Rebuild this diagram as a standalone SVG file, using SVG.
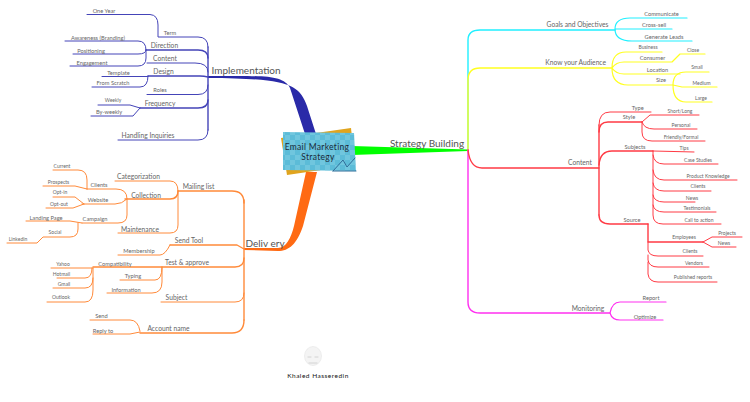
<svg xmlns="http://www.w3.org/2000/svg" width="750" height="402" viewBox="0 0 750 402">
<style>
text{font-family:"Lato","Liberation Sans",sans-serif;fill:#666;text-anchor:middle;dominant-baseline:central}
.xl{font-size:10px;fill:#555}.l{font-size:6.700px}.m{font-size:5.700px}.s{font-size:5px}
.c{font-size:8.500px;fill:#1c2a38;letter-spacing:.3px}
path{fill:none;stroke-linecap:round;stroke-linejoin:round}
.b{stroke:#4444b8;stroke-width:1}.o{stroke:#ff8a3a;stroke-width:1}.r{stroke:#ff3a44;stroke-width:1}
.y{stroke:#ffff20;stroke-width:1.200}.cy{stroke:#20f0ff;stroke-width:1.200}.p{stroke:#ff30f0;stroke-width:1.200}
.t{stroke-width:1.400}
</style>
<defs>
<pattern id="chk" width="10" height="10" patternUnits="userSpaceOnUse"><rect width="10" height="10" fill="#5cbcd8"/><rect width="5" height="5" fill="#70c6de"/><rect x="5" y="5" width="5" height="5" fill="#70c6de"/></pattern>
</defs>
<g id="connectors">
<path style="fill:#00ff00;stroke:none" d="M352,146 L468,149.600 L468,151 L352,155Z"/>
<path style="fill:#2a2aa8;stroke:none" d="M208,76 C260,76 283,74 290,88 L305,134 L316,134 L307,106 C299,84 288,78.500 208,78Z"/>
<path style="fill:#ff6a13;stroke:none" d="M244,248 L278,248 C286,248 291,238 294,226 L306,172 L317,172 L303,226 C297,244 289,251 278,251 L244,250Z"/>
<path class="b t" d="M208,47V130"/>
<path class="b" d="M87,14.500H150Q158,15 158,25V37H198Q208,37 208,47"/>
<path class="b t" d="M146,50H198Q208,50 208,58"/>
<path class="b" d="M65,41H138Q146,41 146,50M73,54H138Q146,54 146,50M70,66H138Q146,66 146,58V50"/>
<path class="b" d="M147,63H195Q208,63 208,72"/>
<path class="b t" d="M148,76H200Q204,76 208,77"/>
<path class="b" d="M102,76.500H148M92,87H140Q148,87 148,76"/>
<path class="b" d="M147,94.500H198Q208,94.500 208,85"/>
<path class="b t" d="M140,108H198Q208,108 208,100"/>
<path class="b" d="M98,105H130L140,108M91,116H133L140,108"/>
<path class="b" d="M118,140H198Q208,140 208,130"/>
<path class="o t" d="M244,200V320"/>
<path class="o t" d="M178,191H232Q244,191 244,203"/>
<path class="o" d="M115,181H170Q178,181 178,191M178,191V225Q178,233 170,233H118"/>
<path class="o t" d="M125,199H170Q178,199 178,191"/>
<path class="o" d="M87,189H116Q127,189 127,199V215Q127,223 118,223H82M127,199Q122,204 115,204H82"/>
<path class="o" d="M53,170H78Q87,170 87,180V189M43,186H75L87,189M53,197H75L84,204M46,208H73L84,204"/>
<path class="o" d="M26,221H70L82,223M78,223V229Q78,237 70,237H43L37,243H7"/>
<path class="o t" d="M170,245H237L244,249"/>
<path class="o" d="M118,255H160Q165,255 170,245"/>
<path class="o t" d="M93,267H235Q244,267 244,258"/>
<path class="o" d="M51,268H93M57,278H85Q92,278 92,268M53,288H85Q93,288 93,278M47,302H85Q93,302 93,290V268"/>
<path class="o" d="M120,280H155Q162,280 162,267M107,293H152Q162,293 162,282V267"/>
<path class="o" d="M161,302H235Q244,302 244,293"/>
<path class="o t" d="M140,333H232Q244,333 244,320"/>
<path class="o" d="M90,320H130Q138,320 140,331M93,334H130L140,332"/>
<path class="cy t" d="M468,150V40Q468,30 480,30H615"/>
<path class="cy" d="M615,29Q615,18 630,18H687M615,29H672M615,29Q615,41 632,41H692"/>
<path class="y t" d="M468,150V80Q468,68 480,68H612"/>
<path class="y" d="M612,68Q612,52 626,52H662M612,68Q616,62 624,62H672L680,54H705M612,68Q616,74 624,74H680M612,68Q612,85 628,85H673"/>
<path class="y" d="M673,85Q673,72 686,72H709M673,85L682,87H717M673,85Q673,102 686,102H712"/>
<path class="p t" d="M468,150V302Q468,313 480,313H610"/>
<path class="p" d="M610,313Q612,302 620,302H666M610,313Q612,320 620,320H663"/>
<path class="r t" d="M468,150Q470,168 482,168H599"/>
<path class="r t" d="M599,125V215"/>
<path class="r" d="M599,125Q599,112 610,112H651"/>
<path class="r t" d="M599,132Q599,122 608,122H642"/>
<path class="r" d="M642,122L650,115H699M642,122Q644,129 654,129H697M642,122V132Q642,141 652,141H705"/>
<path class="r t" d="M599,165Q600,151 612,151H653"/>
<path class="r" d="M653,151L694,152M653,151V215Q653,224 663,224H721M653,155Q654,164 664,164H718M653,170Q654,180 664,180H737M653,183Q654,191 664,191H711M653,195Q654,202 664,202H695M653,205Q654,212 664,212H716"/>
<path class="r t" d="M599,215Q599,224 610,224H648"/>
<path class="r t" d="M648,224V242Q650,242 658,242H703"/>
<path class="r" d="M703,242L712,237H742M703,242L712,247H736M648,242V250Q649,256 658,256H703M648,255V260Q649,267 658,267H709M648,262V274Q649,282 658,282H717"/>
</g>
<g id="central">
<path style="fill:#e0a41e;stroke:none" d="M281,138L351,128L355,165L287,175Z"/>
<path style="fill:url(#chk);stroke:none" d="M283,132L354,133L356,171L283,170Z"/>
<path style="stroke:#2e6c98;stroke-width:1" d="M333,171L343,160L347,167L355,158M333,171H356"/>
<text class="c" x="317" y="147">Email Marketing</text>
<text class="c" x="318" y="157">Strategy</text>
</g>
<g id="implementation"><text class="xl" x="246" y="70">Implementation</text></g>
<g id="term"><text class="m" x="170" y="32">Term</text></g>
<g id="one-year"><text class="m" x="104" y="10">One Year</text></g>
<g id="direction"><text class="l" x="164.500" y="45">Direction</text></g>
<g id="awareness"><text class="m" x="98" y="37">Awareness (Branding)</text></g>
<g id="positioning"><text class="m" x="91" y="50">Positioning</text></g>
<g id="engagement"><text class="m" x="92" y="62">Engagement</text></g>
<g id="content-i"><text class="l" x="165" y="58">Content</text></g>
<g id="design"><text class="l" x="163.500" y="70.500">Design</text></g>
<g id="template"><text class="m" x="118.500" y="72">Template</text></g>
<g id="scratch"><text class="m" x="113" y="82">From Scratch</text></g>
<g id="roles"><text class="m" x="160" y="89.500">Roles</text></g>
<g id="frequency"><text class="l" x="160" y="103">Frequency</text></g>
<g id="weekly"><text class="s" x="113" y="100">Weekly</text></g>
<g id="by-weekly"><text class="m" x="109" y="111">By-weekly</text></g>
<g id="inquiries"><text class="l" x="148" y="135">Handling Inquiries</text></g>
<g id="delivery"><text class="xl" x="265" y="243">Deliv ery</text></g>
<g id="mailing"><text class="l" x="198.500" y="186">Mailing list</text></g>
<g id="categorization"><text class="l" x="138.500" y="176">Categorization</text></g>
<g id="collection"><text class="l" x="146" y="194.500">Collection</text></g>
<g id="maintenance"><text class="l" x="140" y="229">Maintenance</text></g>
<g id="clients-d"><text class="m" x="99" y="184">Clients</text></g>
<g id="current"><text class="s" x="62" y="166">Current</text></g>
<g id="prospects"><text class="s" x="58.500" y="182">Prospects</text></g>
<g id="website"><text class="m" x="98" y="199">Website</text></g>
<g id="opt-in"><text class="s" x="60" y="192">Opt-in</text></g>
<g id="opt-out"><text class="s" x="59" y="203.500">Opt-out</text></g>
<g id="campaign"><text class="m" x="95" y="218.500">Campaign</text></g>
<g id="landing"><text class="m" x="46" y="217">Landing Page</text></g>
<g id="social"><text class="s" x="55" y="232">Social</text></g>
<g id="linkedin"><text class="s" x="18" y="239">Linkedin</text></g>
<g id="sendtool"><text class="l" x="189" y="240">Send Tool</text></g>
<g id="membership"><text class="m" x="139" y="250">Membership</text></g>
<g id="test"><text class="l" x="187" y="262">Test &amp; approve</text></g>
<g id="compat"><text class="m" x="115" y="263">Compatibility</text></g>
<g id="yahoo"><text class="s" x="63" y="264">Yahoo</text></g>
<g id="hotmail"><text class="s" x="61.500" y="273.500">Hotmail</text></g>
<g id="gmail"><text class="s" x="64" y="284">Gmail</text></g>
<g id="outlook"><text class="s" x="61" y="297">Outlook</text></g>
<g id="typing"><text class="m" x="133" y="275.500">Typing</text></g>
<g id="information"><text class="m" x="126" y="289">Information</text></g>
<g id="subject"><text class="l" x="176.500" y="297">Subject</text></g>
<g id="send"><text class="m" x="101.500" y="315">Send</text></g>
<g id="reply"><text class="m" x="103" y="330">Reply to</text></g>
<g id="account"><text class="l" x="168.500" y="328">Account name</text></g>
<g id="strategy"><text class="xl" x="427" y="143">Strategy Building</text></g>
<g id="goals"><text class="l" x="577.500" y="24">Goals and Objectives</text></g>
<g id="communicate"><text class="m" x="661.500" y="13.500">Communicate</text></g>
<g id="cross"><text class="m" x="654" y="24">Cross-sell</text></g>
<g id="leads"><text class="m" x="664" y="36">Generate Leads</text></g>
<g id="audience"><text class="l" x="575.700" y="62.300">Know your Audience</text></g>
<g id="business"><text class="s" x="648" y="47">Business</text></g>
<g id="consumer"><text class="m" x="652.500" y="57">Consumer</text></g>
<g id="close"><text class="s" x="693" y="49.500">Close</text></g>
<g id="location"><text class="m" x="657.500" y="69">Location</text></g>
<g id="size"><text class="m" x="661" y="79.700">Size</text></g>
<g id="small"><text class="s" x="697" y="67">Small</text></g>
<g id="medium"><text class="s" x="701.500" y="83">Medium</text></g>
<g id="large"><text class="s" x="701" y="97.700">Large</text></g>
<g id="content"><text class="l" x="580" y="162">Content</text></g>
<g id="type"><text class="m" x="637.700" y="107">Type</text></g>
<g id="style"><text class="m" x="629" y="116.700">Style</text></g>
<g id="short"><text class="s" x="680" y="110.700">Short/Long</text></g>
<g id="personal"><text class="s" x="681" y="124.700">Personal</text></g>
<g id="friendly"><text class="s" x="681" y="137">Friendly/Formal</text></g>
<g id="subjects"><text class="m" x="635" y="146.700">Subjects</text></g>
<g id="tips"><text class="s" x="684" y="148">Tips</text></g>
<g id="case"><text class="s" x="698" y="160">Case Studies</text></g>
<g id="product"><text class="s" x="708" y="176">Product Knowledge</text></g>
<g id="clients-s"><text class="s" x="698" y="186">Clients</text></g>
<g id="news-s"><text class="s" x="692" y="197.700">News</text></g>
<g id="testimonials"><text class="s" x="697" y="207.700">Testimonials</text></g>
<g id="source"><text class="m" x="632" y="219">Source</text></g>
<g id="cta"><text class="s" x="699" y="220">Call to action</text></g>
<g id="employees"><text class="s" x="684" y="237">Employees</text></g>
<g id="projects"><text class="s" x="727" y="233">Projects</text></g>
<g id="news-e"><text class="s" x="724" y="243">News</text></g>
<g id="clients-e"><text class="s" x="690" y="251">Clients</text></g>
<g id="vendors"><text class="s" x="694" y="263">Vendors</text></g>
<g id="published"><text class="s" x="693" y="277.300">Published reports</text></g>
<g id="monitoring"><text class="l" x="588" y="307.700">Monitoring</text></g>
<g id="report"><text class="m" x="651" y="297">Report</text></g>
<g id="optimize"><text class="m" x="645" y="316">Optimize</text></g>
<g id="author">
<ellipse cx="313" cy="356" rx="8.500" ry="9.500" fill="#f4f4f4" stroke="#e4e4e4" stroke-width=".6"/>
<path style="stroke:#cccccc;stroke-width:.8" d="M308,357h3M315,357h3M309,363h8"/>
<text class="m" x="318" y="375.500" style="fill:#111;letter-spacing:.5px;font-size:6.500px">Khaled Hasseredin</text>
</g>
</svg>
